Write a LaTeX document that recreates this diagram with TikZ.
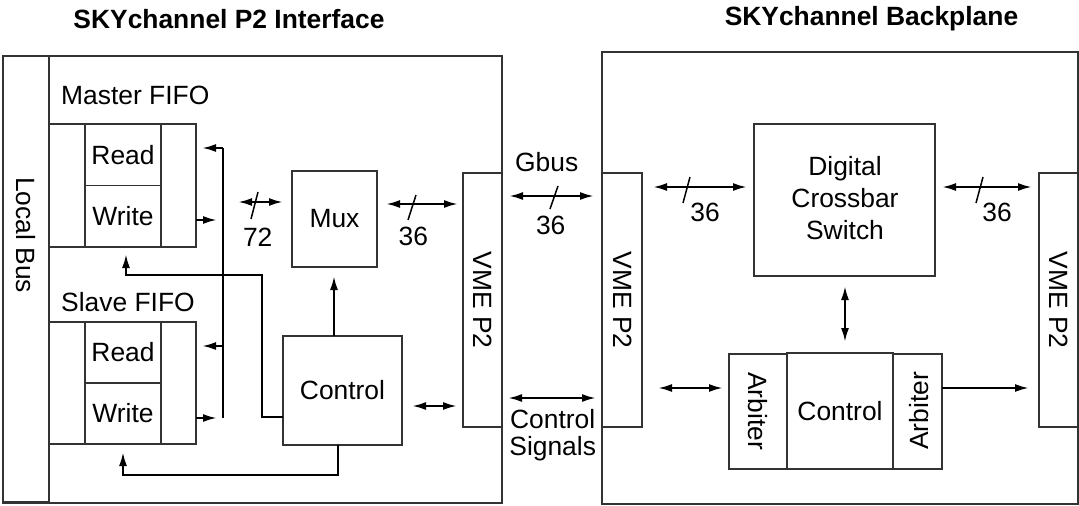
\documentclass[tikz,border=0pt]{standalone}
\usepackage{fontspec}
\setmainfont{Liberation Sans}
\usetikzlibrary{arrows.meta}
\begin{document}
\begin{tikzpicture}[x=1pt,y=-1pt,
  box/.style={draw=black!80, line width=1.4pt, fill=white, inner sep=0pt, outer sep=0pt},
  txt/.style={inner sep=0pt, font=\fontsize{26.4}{26.5}\selectfont, align=center},
  ttl/.style={inner sep=0pt, font=\fontsize{26.4}{30}\selectfont\bfseries},
  wire/.style={line width=2.2pt, black},
  arr/.style={wire, -{Latex[length=14pt,width=8pt]}},
  darr/.style={wire, {Latex[length=14pt,width=8pt]}-{Latex[length=14pt,width=8pt]}},
  slash/.style={line width=1.5pt, black}]
\useasboundingbox (0,0) rectangle (1079,506);

% titles
\node[ttl] (t1) at (229,19) {SKYchannel P2 Interface};
\node[ttl] (t2) at (871.5,19) {SKYchannel Backplane};

% left panel
\node[box, minimum width=499pt, minimum height=447pt] (lpanel) at (252.5,279.5) {};
\node[box, minimum width=46pt, minimum height=446pt] (lbus) at (26,279) {};
\node[txt, rotate=-90] (lbustxt) at (26,235) {Local Bus};

\node[txt, anchor=west] (mfifo) at (61,95) {Master FIFO};
\node[box, minimum width=36pt, minimum height=123pt] (mL) at (67,185.5) {};
\node[box, minimum width=35pt, minimum height=123pt] (mR) at (178.5,185.5) {};
\node[box, minimum width=76pt, minimum height=61.7pt, txt] (mRead) at (123,154.8) {Read};
\node[box, minimum width=76pt, minimum height=61.3pt, txt] (mWrite) at (123,216.3) {Write};

\node[txt, anchor=west] (sfifo) at (61,301.7) {Slave FIFO};
\node[box, minimum width=36pt, minimum height=122pt] (sL) at (67,383) {};
\node[box, minimum width=35pt, minimum height=122pt] (sR) at (178.5,383) {};
\node[box, minimum width=76pt, minimum height=61pt, txt] (sRead) at (123,352.5) {Read};
\node[box, minimum width=76pt, minimum height=61pt, txt] (sWrite) at (123,413.5) {Write};

\node[box, minimum width=85pt, minimum height=96pt, txt] (mux) at (334.5,219) {Mux};
\node[box, minimum width=119pt, minimum height=109pt, txt] (ctrlL) at (342.5,390.5) {Control};
\node[box, minimum width=39pt, minimum height=254pt] (vmeL) at (482.5,300) {};
\node[txt, rotate=-90] (vmeLt) at (482.5,300) {VME P2};

% right panel
\node[box, minimum width=476pt, minimum height=452pt] (rpanel) at (840,278) {};
\node[box, minimum width=40pt, minimum height=254pt] (vmeR1) at (622,300) {};
\node[txt, rotate=-90] (vmeR1t) at (623,300) {VME P2};
\node[box, minimum width=39pt, minimum height=254pt] (vmeR2) at (1058.5,300) {};
\node[txt, rotate=-90] (vmeR2t) at (1059,300) {VME P2};
\node[box, minimum width=181pt, minimum height=152pt] (dcs) at (844.5,200) {};
\node[txt, font=\fontsize{26.4}{32}\selectfont] (dcst) at (845,198) {Digital\\Crossbar\\Switch};
\node[box, minimum width=58pt, minimum height=115pt] (arbL) at (758,411.5) {};
\node[txt, rotate=-90] (arbLt) at (758,411) {Arbiter};
\node[box, minimum width=106pt, minimum height=116pt, txt] (ctrlR) at (840,411) {Control};
\node[box, minimum width=49pt, minimum height=115pt] (arbR) at (917.5,411.5) {};
\node[txt, rotate=90] (arbRt) at (919,411) {Arbiter};

% coordinates for connector ends
\coordinate (vtop) at (223,148);
\coordinate (vbot) at (223,418);
\coordinate (mrtip) at (202,148);
\coordinate (mwst) at (196,220);
\coordinate (mwtip) at (217,220);
\coordinate (srst) at (223,346);
\coordinate (srtip) at (202,346);
\coordinate (swst) at (196,418);
\coordinate (swtip) at (217,418);

% FIFO bus
\draw[wire] (vtop) -- (vbot);
\draw[arr] (vtop) -- (mrtip);
\draw[arr] (mwst) -- (mwtip);
\draw[arr] (srst) -- (srtip);
\draw[arr] (swst) -- (swtip);

% control to master write
\coordinate (c1) at (283,417);
\coordinate (c1tip) at (126,254);
\draw[arr] (c1) -- (262,417) -- (262,275) -- (126,275) -- (c1tip);
% control to slave write
\coordinate (c2) at (338,445);
\coordinate (c2tip) at (123,452);
\draw[arr] (c2) -- (338,475) -- (123,475) -- (c2tip);
% control to mux
\coordinate (c3) at (334,336);
\coordinate (c3tip) at (334,276);
\draw[arr] (c3) -- (c3tip);

% 72 bus
\coordinate (a72a) at (238,202);
\coordinate (a72b) at (283,202);
\draw[darr] (a72a) -- (a72b);
\draw[slash] (251,219) -- (258,192);
\node[txt] (l72) at (257.7,237.3) {72};
% 36 mux-vme
\coordinate (a36a) at (386,204);
\coordinate (a36b) at (458,204);
\draw[darr] (a36a) -- (a36b);
\draw[slash] (408,220) -- (416,195);
\node[txt] (l36a) at (413.3,236.7) {36};
% Gbus
\coordinate (gba) at (509,196);
\coordinate (gbb) at (594,196);
\draw[darr] (gba) -- (gbb);
\draw[slash] (550,209) -- (558,186);
\node[txt] (gbus) at (546.7,161.7) {Gbus};
\node[txt] (l36b) at (550.7,225) {36};
% control <-> vme
\coordinate (cva) at (412,406);
\coordinate (cvb) at (457,406);
\draw[darr] (cva) -- (cvb);
% control signals
\coordinate (csa) at (508,398);
\coordinate (csb) at (596,398);
\draw[darr] (csa) -- (csb);
\node[txt] (cst) at (552.7,435) {Control\\Signals};

% right panel connectors
\coordinate (r1a) at (653,187);
\coordinate (r1b) at (747,187);
\draw[darr] (r1a) -- (r1b);
\draw[slash] (683,203) -- (690,177);
\node[txt] (l36c) at (705,212) {36};
\coordinate (r2a) at (942,187);
\coordinate (r2b) at (1032,187);
\draw[darr] (r2a) -- (r2b);
\draw[slash] (976,203) -- (983,177);
\node[txt] (l36d) at (997,212) {36};
\coordinate (r3a) at (845,286);
\coordinate (r3b) at (845,342);
\draw[darr] (r3a) -- (r3b);
\coordinate (r4a) at (658,388);
\coordinate (r4b) at (723,388);
\draw[darr] (r4a) -- (r4b);
\coordinate (r5a) at (942,388);
\coordinate (r5b) at (1029,388);
\draw[arr] (r5a) -- (r5b);
\end{tikzpicture}
\end{document}
